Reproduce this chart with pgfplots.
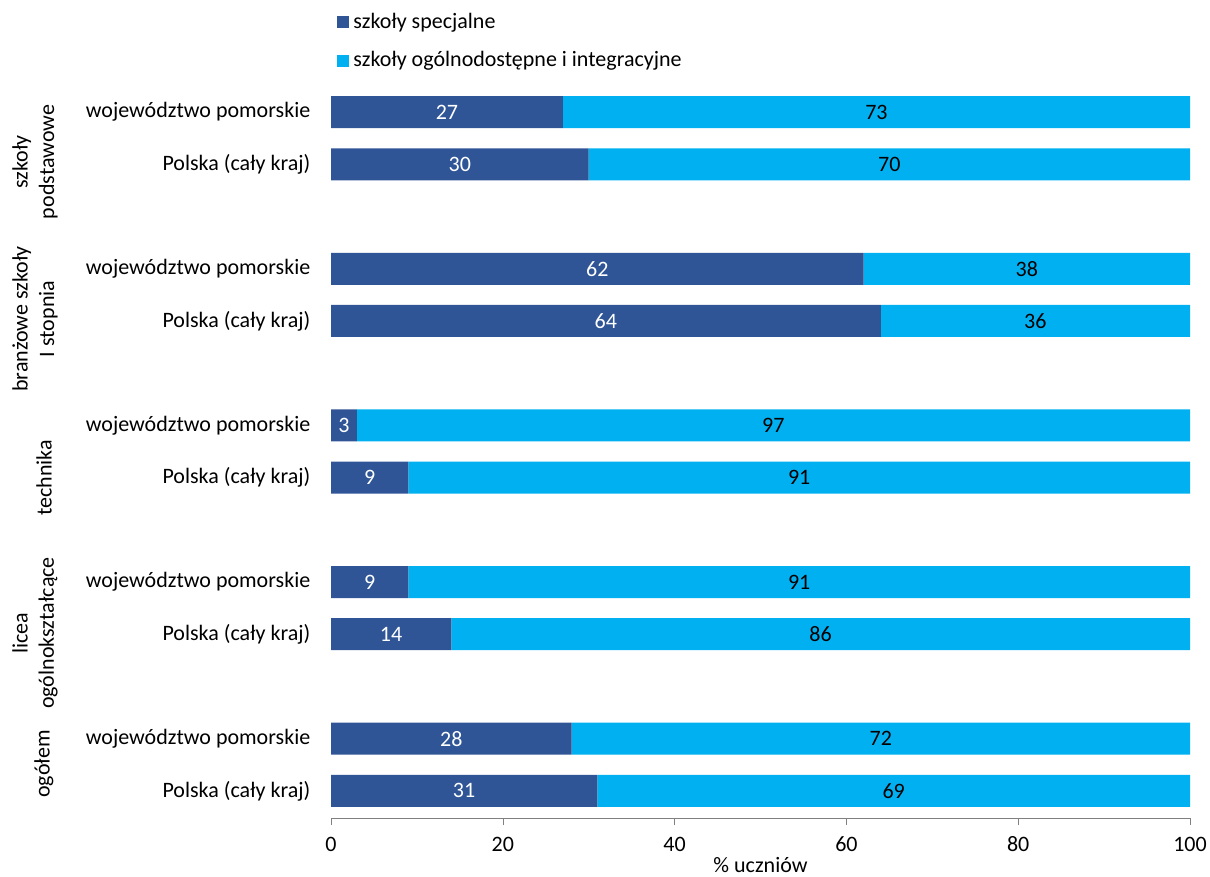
\documentclass[border=0pt]{standalone}
\usepackage{fontspec}
\setmainfont{Carlito}
\usepackage{pgfplots}
\pgfplotsset{compat=1.18}
\definecolor{darkb}{HTML}{2F5597}
\definecolor{lightb}{HTML}{00B0F0}
\definecolor{axgray}{HTML}{808080}
\begin{document}
\fontsize{11}{13.2}\selectfont
\begin{tikzpicture}
\useasboundingbox (0,0) rectangle (605pt,-438.5pt);
\begin{axis}[
  at={(165.5pt,-409pt)}, anchor=south west,
  scale only axis, width=429.5pt, height=366.5pt,
  xbar stacked, bar width=16pt,
  xmin=0, xmax=100, ymin=-0.52, ymax=13.52,
  xtick={0,20,...,100},
  ytick={0,1,3,4,6,7,9,10,12,13},
  yticklabels={Polska (cały kraj),województwo pomorskie,Polska (cały kraj),województwo pomorskie,Polska (cały kraj),województwo pomorskie,Polska (cały kraj),województwo pomorskie,Polska (cały kraj),województwo pomorskie},
  axis x line*=bottom, axis y line*=left,
  x axis line style={-, draw=axgray},
  y axis line style={draw=none},
  xtick style={draw=axgray}, ytick style={draw=none},
  tick align=outside, major tick length=3.5pt,
  /pgf/number format/assume math mode=true,
  ticklabel style={font=\fontsize{11}{13.2}\selectfont},
  xticklabel style={yshift=-2pt},
  yticklabel style={xshift=-3pt},
  xlabel={\% uczniów},
  xlabel style={yshift=5pt},
  clip=false,
  legend style={at={(0,1.11)}, anchor=north west, draw=none, fill=none, legend cell align=left, row sep=6pt, font=\fontsize{11}{13.2}\selectfont},
  legend image code/.code={\fill[#1] (0pt,-3pt) rectangle (6pt,3pt);},
  point meta=rawx,
  nodes near coords={\pgfmathprintnumber{\pgfplotspointmeta}},
  every node near coord/.append style={font=\fontsize{11}{13.2}\selectfont},
]
\addplot[fill=darkb, draw=none, every node near coord/.append style={text=white}] coordinates {(31,0) (28,1) (14,3) (9,4) (9,6) (3,7) (64,9) (62,10) (30,12) (27,13)};
\addplot[fill=lightb, draw=none, every node near coord/.append style={text=black}] coordinates {(69,0) (72,1) (86,3) (91,4) (91,6) (97,7) (36,9) (38,10) (70,12) (73,13)};
\legend{szkoły specjalne, szkoły ogólnodostępne i integracyjne}
\end{axis}
\begin{scope}[x=0.5pt,y=-0.5pt]
\node[rotate=90, align=center] at (35,162) {szkoły\\podstawowe};
\node[rotate=90, align=center] at (35,319) {branżowe szkoły\\I stopnia};
\node[rotate=90, align=center] at (44,478) {technika};
\node[rotate=90, align=center] at (35,633) {licea\\ogólnokształcące};
\node[rotate=90, align=center] at (44,764) {ogółem};
\end{scope}
\end{tikzpicture}
\end{document}
